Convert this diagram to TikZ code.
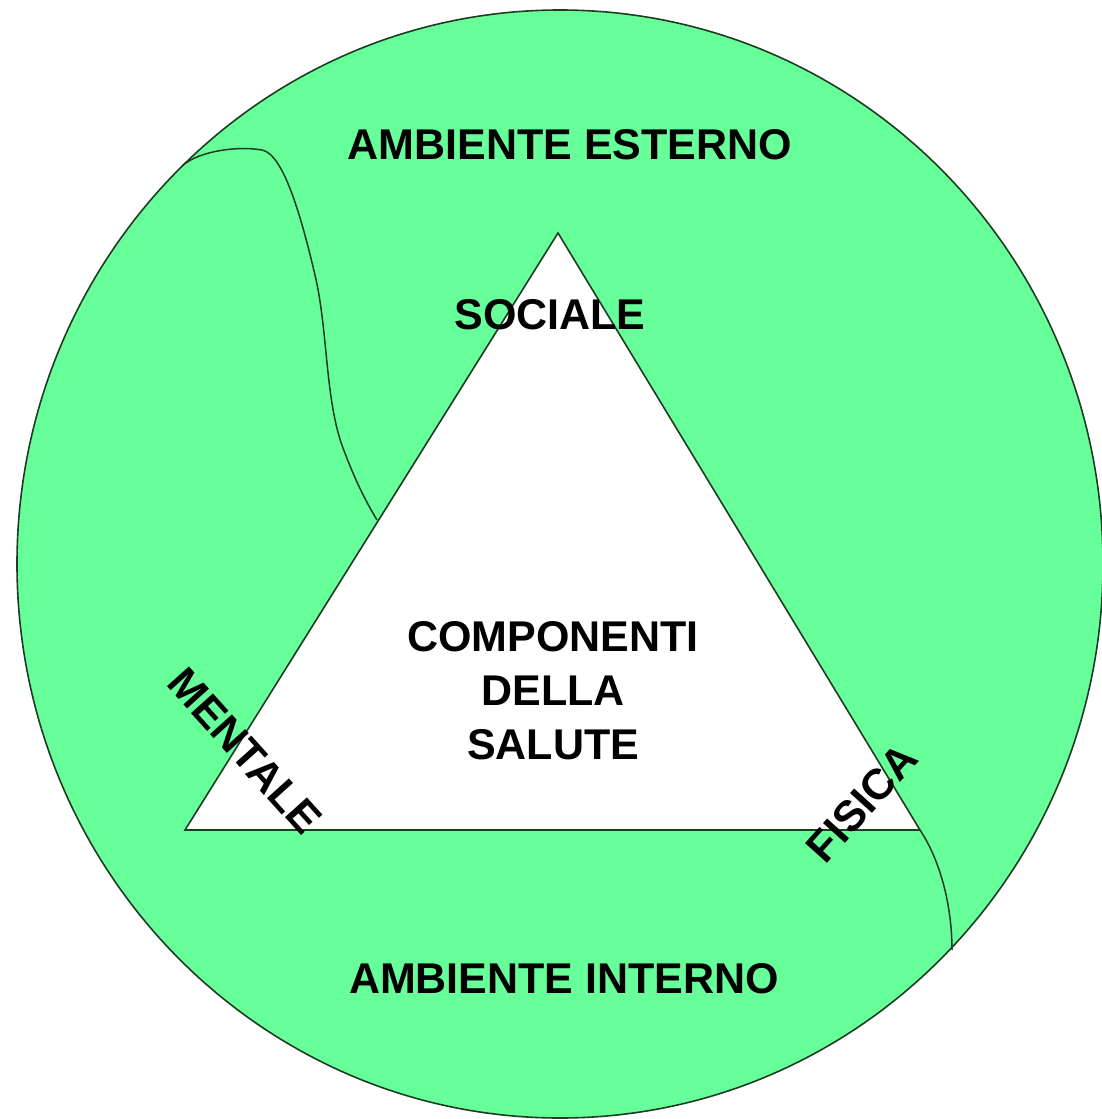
\documentclass[tikz,border=0pt]{standalone}
\usepackage{fontspec}
\usetikzlibrary{shapes.geometric}
\setmainfont{Liberation Sans}
\definecolor{bggreen}{RGB}{102,255,153}
\definecolor{edge}{RGB}{30,60,35}
\begin{document}
\begin{tikzpicture}[x=1pt,y=-1pt,
  lbl/.style={font=\fontsize{43}{54}\selectfont\bfseries, inner sep=0pt, align=center},
  outline/.style={draw=edge, line width=1.6pt},
  divider/.style={draw=edge, line width=1.5pt}]
\useasboundingbox (0,0) rectangle (1102,1119);
% outer circle
\node[ellipse, outline, fill=bggreen, minimum width=1086pt, minimum height=1108pt, inner sep=0pt] (env) at (560,564) {};
% triangle
\coordinate (top) at (558,233);
\coordinate (bl) at (185,830);
\coordinate (br) at (920,830);
\draw[outline, fill=white] (top) -- (bl) -- (br) -- cycle;
% boundary curves
\coordinate (lstart) at (182,166);
\coordinate (lend) at (377,520);
\coordinate (rend) at (952,950);
\draw[divider] (lstart) .. controls (200,150) and (240,146) .. (262,150)
  .. controls (284,154) and (302,220) .. (315,275)
  .. controls (328,330) and (325,400) .. (343,448)
  .. controls (355,480) and (365,500) .. (lend);
\draw[divider] (br) .. controls (940,860) and (952,905) .. (rend);
% labels
\node[lbl] (est) at (570,145) {AMBIENTE ESTERNO};
\node[lbl] (int) at (564,979) {AMBIENTE INTERNO};
\node[lbl] (soc) at (550,315) {SOCIALE};
\node[lbl] (comp) at (553,691) {COMPONENTI\\DELLA\\SALUTE};
\node[lbl, rotate=-48] (men) at (245,751) {MENTALE};
\node[lbl, rotate=48] (fis) at (862,803) {FISICA};
\end{tikzpicture}
\end{document}
